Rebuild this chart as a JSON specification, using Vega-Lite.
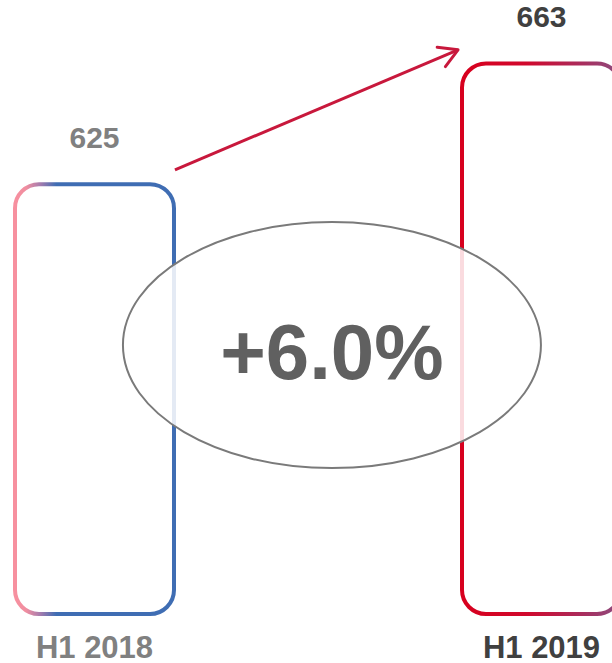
{
  "$schema": "https://vega.github.io/schema/vega-lite/v6.json",
  "width": 606,
  "height": 614,
  "autosize": {"type": "none"},
  "padding": {"left": 15, "top": 0, "right": 0, "bottom": 49},
  "background": "white",
  "config": {"view": {"stroke": null}},
  "datasets": {
    "bars": [
      {"period": "H1 2018", "value": 625},
      {"period": "H1 2019", "value": 663}
    ],
    "growth": [
      {"from": "H1 2018", "to": "H1 2019", "label": "+6.0%"}
    ]
  },
  "layer": [
    {
      "data": {"name": "bars"},
      "transform": [{"filter": "datum.period == 'H1 2018'"}],
      "mark": {
        "type": "bar", "fill": "transparent", "strokeWidth": 4, "cornerRadius": 24,
        "stroke": {"gradient": "linear", "x1": 0, "y1": 0, "x2": 1, "y2": 0, "stops": [
          {"offset": 0, "color": "#F7909F"},
          {"offset": 0.07, "color": "#F08EA0"},
          {"offset": 0.16, "color": "#A47CAE"},
          {"offset": 0.26, "color": "#3F6DB3"},
          {"offset": 1, "color": "#3F6DB3"}
        ]}
      },
      "encoding": {
        "x": {
          "field": "period", "type": "nominal",
          "scale": {"type": "band", "domain": ["H1 2018", "H1 2019"], "paddingInner": 0.6443, "paddingOuter": 0},
          "axis": {
            "title": null, "domain": false, "ticks": false, "labelAngle": 0,
            "labelFont": "Liberation Sans", "labelFontSize": 31, "labelFontWeight": "bold",
            "labelPadding": 19,
            "labelColor": {"condition": {"test": "datum.value == 'H1 2019'", "value": "#404040"}, "value": "#808080"}
          }
        },
        "y": {
          "field": "value", "type": "quantitative",
          "scale": {"domain": [489.6, 683], "zero": false, "nice": false},
          "axis": null
        },
        "y2": {"datum": 489.6}
      }
    },
    {
      "data": {"name": "bars"},
      "transform": [{"filter": "datum.period == 'H1 2019'"}],
      "mark": {
        "type": "bar", "fill": "transparent", "strokeWidth": 4, "cornerRadius": 24,
        "stroke": {"gradient": "linear", "x1": 0, "y1": 0, "x2": 1, "y2": 0, "stops": [
          {"offset": 0, "color": "#D7001E"},
          {"offset": 0.4, "color": "#D1082C"},
          {"offset": 0.75, "color": "#AA2C5C"},
          {"offset": 1, "color": "#8B4D80"}
        ]}
      },
      "encoding": {
        "x": {"field": "period", "type": "nominal"},
        "y": {"field": "value", "type": "quantitative"},
        "y2": {"datum": 489.6}
      }
    },
    {
      "data": {"name": "bars"},
      "mark": {"type": "text", "font": "Liberation Sans", "fontSize": 30, "fontWeight": "bold", "baseline": "alphabetic", "dy": -36},
      "encoding": {
        "x": {"field": "period", "type": "nominal"},
        "y": {"field": "value", "type": "quantitative"},
        "text": {"field": "value", "type": "quantitative"},
        "color": {"condition": {"test": "datum.period == 'H1 2019'", "value": "#404040"}, "value": "#808080"}
      }
    },
    {
      "data": {"name": "growth"},
      "mark": {
        "type": "point", "filled": true, "fill": "white", "fillOpacity": 0.86,
        "stroke": "#7A7A7A", "strokeWidth": 2, "strokeOpacity": 1, "opacity": 1,
        "shape": "M-1,0 C-1,-0.325 -0.5523,-0.5885 0,-0.5885 C0.5523,-0.5885 1,-0.325 1,0 C1,0.325 0.5523,0.5885 0,0.5885 C-0.5523,0.5885 -1,0.325 -1,0 Z",
        "size": 174724
      },
      "encoding": {
        "x": {"field": "to", "type": "nominal", "bandPosition": -0.818},
        "y": {"datum": 574.3}
      }
    },
    {
      "data": {"name": "growth"},
      "mark": {"type": "text", "font": "Liberation Sans", "fontSize": 78, "fontWeight": "bold", "color": "#606060", "baseline": "alphabetic", "align": "center"},
      "encoding": {
        "x": {"field": "to", "type": "nominal", "bandPosition": -0.818},
        "y": {"datum": 563.5},
        "text": {"field": "label", "type": "nominal"}
      }
    },
    {
      "data": {"name": "growth"},
      "mark": {"type": "rule", "color": "#C8183C", "strokeWidth": 3},
      "encoding": {
        "x": {"field": "from", "type": "nominal", "bandPosition": 1.006},
        "y": {"datum": 629.5},
        "x2": {"field": "to", "bandPosition": -0.025},
        "y2": {"datum": 667.3}
      }
    },
    {
      "data": {"name": "growth"},
      "mark": {
        "type": "point", "filled": false, "stroke": "#C8183C", "strokeWidth": 3, "opacity": 1,
        "shape": "M0,0 L-0.866,-0.5 M0,0 L-0.866,0.5",
        "size": 1764, "angle": 337, "strokeCap": "round"
      },
      "encoding": {
        "x": {"field": "to", "type": "nominal", "bandPosition": -0.025},
        "y": {"datum": 667.3}
      }
    }
  ]
}
